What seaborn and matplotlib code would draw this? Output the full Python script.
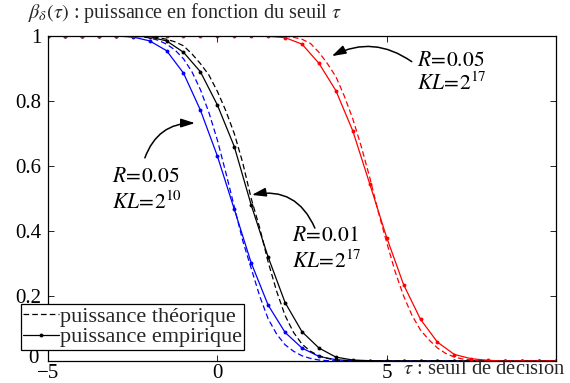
import numpy as np
import pandas as pd
import matplotlib
matplotlib.use("Agg")
import matplotlib.pyplot as plt
from matplotlib.lines import Line2D
from matplotlib.transforms import ScaledTranslation
import seaborn as sns

# decision threshold grids
tau_emp = np.arange(-5.0, 10.01, 0.5)
tau_theo = np.arange(-5.0, 10.01, 0.25)

# empirical power (R=0.05, KL=2^10), (R=0.01, KL=2^17), (R=0.05, KL=2^17)
emp_blue = [1, 1, 1, 1, 1,
            0.997, 0.985, 0.955, 0.886, 0.772, 0.631, 0.467, 0.302, 0.172,
            0.088, 0.040, 0.014, 0.004, 0.001,
            0, 0, 0, 0, 0, 0, 0, 0, 0, 0, 0, 0]
emp_black = [1, 1, 1, 1, 1, 1,
             0.997, 0.985, 0.950, 0.890, 0.788, 0.660, 0.480, 0.320, 0.180,
             0.090, 0.040, 0.012, 0.003, 0.001,
             0, 0, 0, 0, 0, 0, 0, 0, 0, 0, 0]
emp_red = [1, 1, 1, 1, 1, 1, 1, 1, 1, 1, 1, 1, 1,
           0.999, 0.995, 0.975, 0.916, 0.832, 0.708, 0.545, 0.380, 0.235,
           0.128, 0.058, 0.020, 0.007, 0.002,
           0, 0, 0, 0]

# theoretical power on the finer grid
theo_blue = [1, 1, 1, 1, 1, 1, 1, 1, 1,
             0.999, 0.998, 0.998, 0.994, 0.987, 0.975, 0.957, 0.930, 0.890,
             0.835, 0.765, 0.680, 0.580, 0.475, 0.370, 0.285, 0.200, 0.130,
             0.083, 0.050, 0.030, 0.016, 0.008, 0.003, 0.001, 0.0005,
             0, 0, 0, 0, 0, 0, 0, 0, 0, 0, 0, 0, 0, 0, 0, 0, 0, 0, 0, 0,
             0, 0, 0, 0, 0, 0]
theo_black = [1, 1, 1, 1, 1, 1, 1, 1, 1, 1, 1,
              0.999, 0.998, 0.995, 0.990, 0.982, 0.970, 0.945, 0.915, 0.880,
              0.830, 0.770, 0.700, 0.610, 0.500, 0.410, 0.305, 0.215, 0.140,
              0.088, 0.052, 0.030, 0.016, 0.008, 0.003, 0.001,
              0, 0, 0, 0, 0, 0, 0, 0, 0, 0, 0, 0, 0, 0, 0, 0, 0, 0, 0, 0,
              0, 0, 0, 0, 0]
theo_red = [1, 1, 1, 1, 1, 1, 1, 1, 1, 1, 1, 1, 1, 1, 1, 1, 1, 1, 1, 1, 1, 1, 1, 1, 1, 1, 1,
            1, 0.999, 0.996, 0.990, 0.977, 0.950, 0.915, 0.875, 0.815, 0.745,
            0.660, 0.565, 0.460, 0.365, 0.275, 0.200, 0.140, 0.095, 0.065,
            0.040, 0.023, 0.012, 0.006, 0.003, 0.001,
            0, 0, 0, 0, 0, 0, 0, 0, 0]

series = [("blue", emp_blue, theo_blue),
          ("black", emp_black, theo_black),
          ("red", emp_red, theo_red)]

sns.set_theme(style="ticks")
plt.rcParams["font.family"] = ["Liberation Serif", "DejaVu Serif"]
plt.rcParams["mathtext.fontset"] = "stix"
plt.rcParams["xtick.direction"] = "in"
plt.rcParams["ytick.direction"] = "in"

W, H = 570, 383
fig = plt.figure(figsize=(W / 100, H / 100), dpi=100)
ax = fig.add_axes([48 / W, 1 - 361 / H, 508 / W, 325 / H])

dash = (0, (4.5, 2.5))
for color, emp, theo in series:
    sns.lineplot(x=tau_theo, y=theo, ax=ax, color=color, linestyle=dash,
                 linewidth=0.9, estimator=None, sort=False)
    sns.lineplot(x=tau_emp, y=emp, ax=ax, color=color, linewidth=0.9,
                 marker="o", markersize=2.8, markeredgewidth=0,
                 estimator=None, sort=False)

ax.set_xlim(-5, 10)
ax.set_ylim(0, 1)
ax.set_xticks([-5, 0, 5])
ax.set_xticklabels(["\u22125", "0", "5"])
ax.set_yticks([0, 0.2, 0.4, 0.6, 0.8, 1])
ax.set_yticklabels(["0", "0.2", "0.4", "0.6", "0.8", "1"])
ax.tick_params(axis="both", which="both", top=True, right=True,
               length=4, width=0.6, labelsize=15, color="black",
               labelcolor="black")
ax.tick_params(axis="y", pad=5)
ax.tick_params(axis="x", pad=2)
for s in ax.spines.values():
    s.set_color("black")
    s.set_linewidth(0.9)
ax.set_xlabel("")
ax.set_ylabel("")

# lift the bottom y label a little so it clears the x labels
lbl0 = ax.get_yticklabels()[0]
lbl0.set_transform(lbl0.get_transform()
                   + ScaledTranslation(-2 / 100, 5 / 100, fig.dpi_scale_trans))

# curve labels with curved arrows
arrow_kw = dict(arrowstyle="-|>,head_length=0.7,head_width=0.22",
                color="black", lw=1.1, shrinkA=0, shrinkB=0)
ax.annotate("", xy=(-0.66, 0.732), xytext=(-2.14, 0.625),
            arrowprops=dict(connectionstyle="arc3,rad=-0.35", **arrow_kw))
ax.annotate("", xy=(1.02, 0.511), xytext=(2.88, 0.409),
            arrowprops=dict(connectionstyle="arc3,rad=0.4", **arrow_kw))
ax.annotate("", xy=(3.38, 0.938), xytext=(5.74, 0.921),
            arrowprops=dict(connectionstyle="arc3,rad=0.3", **arrow_kw))

lab_kw = dict(fontsize=15.5, ha="left", va="center", color="black")
ax.text(-3.10, 0.566, r"$R\!=\!0.05$", **lab_kw)
ax.text(-3.10, 0.486, r"$KL\!=\!2^{10}$", **lab_kw)
ax.text(2.20, 0.382, r"$R\!=\!0.01$", **lab_kw)
ax.text(2.20, 0.305, r"$KL\!=\!2^{17}$", **lab_kw)
ax.text(5.89, 0.920, r"$R\!=\!0.05$", **lab_kw)
ax.text(5.89, 0.852, r"$KL\!=\!2^{17}$", **lab_kw)

# axis captions
fig.text(28 / W, 1 - 13 / H,
         r"$\beta_\delta(\tau)$ : puissance en fonction du seuil $\tau$",
         fontsize=14.5, ha="left", va="center")
fig.text(403 / W, 1 - 370 / H, r"$\tau$ : seuil de décision",
         fontsize=14.8, ha="left", va="center")

handles = [Line2D([], [], color="black", linestyle=dash, linewidth=0.9),
           Line2D([], [], color="black", linewidth=0.9, marker="o",
                  markersize=2.8, markeredgewidth=0)]
leg = fig.legend(handles, ["puissance théorique", "puissance empirique"],
                 loc="upper left", bbox_to_anchor=(21 / W, 1 - 304 / H),
                 fontsize=16, frameon=True, fancybox=False,
                 edgecolor="black", framealpha=1, borderpad=0.1,
                 labelspacing=0.0, handlelength=1.6, handletextpad=0.05,
                 borderaxespad=0)
leg.get_frame().set_linewidth(0.9)

fig.savefig("out.png", dpi=100)
